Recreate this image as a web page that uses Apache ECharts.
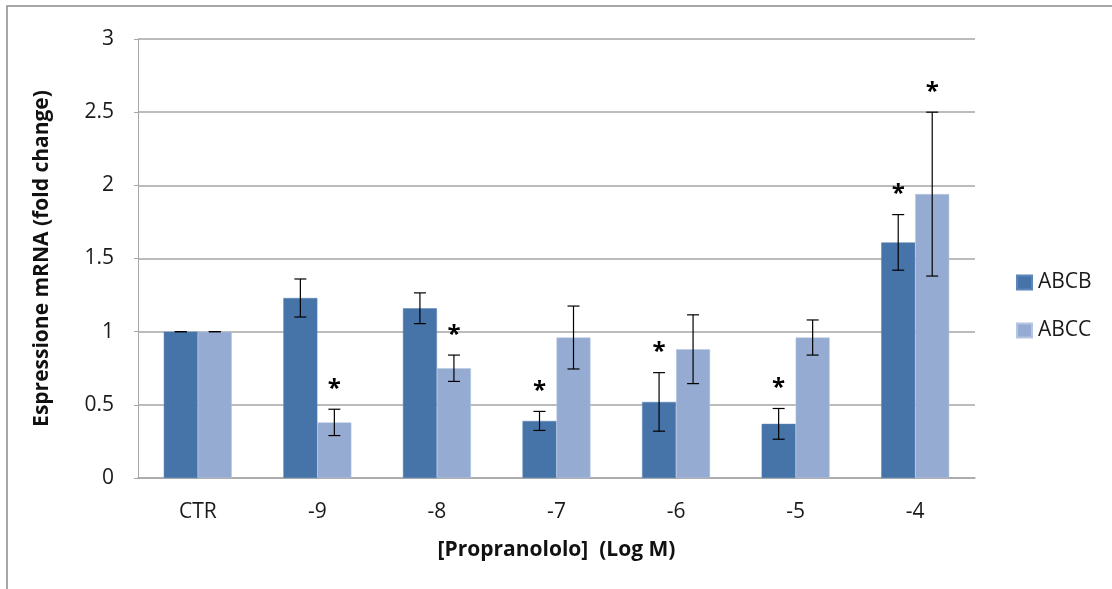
<!DOCTYPE html>
<html>
<head>
<meta charset="utf-8">
<script src="https://cdn.jsdelivr.net/npm/echarts@6/dist/echarts.min.js"></script>
<style>
  html, body { margin: 0; padding: 0; background: #fff; }
  #chart { width: 1112px; height: 589px; }
</style>
</head>
<body>
<div id="chart"></div>
<script>
// Propranolol dose groups (log M)
const categories = ['CTR', '-9', '-8', '-7', '-6', '-5', '-4'];
const seriesNames = ['ABCB', 'ABCC'];

// Mean fold change in mRNA expression
const abcbValues = [1.00, 1.23, 1.16, 0.39, 0.52, 0.37, 1.61];
const abccValues = [1.00, 0.38, 0.75, 0.96, 0.88, 0.96, 1.94];

// Error bar half-widths
const abcbErrors = [0.00, 0.13, 0.105, 0.065, 0.20, 0.105, 0.19];
const abccErrors = [0.00, 0.09, 0.09, 0.215, 0.235, 0.12, 0.56];

// Significance markers (1 = '*')
const abcbSig = [0, 0, 0, 1, 1, 1, 1];
const abccSig = [0, 1, 1, 0, 0, 0, 1];

const yTicks = [0, 0.5, 1, 1.5, 2, 2.5, 3];

const FONT = '"Open Sans", "Noto Sans", sans-serif';
const BAR_W = 34;
const colors = ['#4673a8', '#95abd2'];

function errorItems(values, errors, sig) {
  return values.map((v, i) => [i, v, errors[i], sig[i]]);
}

// Draws the error whisker and optional asterisk for one bar
function makeErrorRenderer(side) {
  return function (params, api) {
    const idx = api.value(0);
    const val = api.value(1);
    const err = api.value(2);
    const sig = api.value(3);
    const center = api.coord([idx, val]);
    const x = center[0] + side * BAR_W / 2;
    const top = api.coord([idx, val + err])[1];
    const bot = api.coord([idx, val - err])[1];
    const cap = 6;
    const lineStyle = { stroke: '#000', lineWidth: 1.2 };
    const children = [
      { type: 'line', shape: { x1: x, y1: top, x2: x, y2: bot }, style: lineStyle },
      { type: 'line', shape: { x1: x - cap, y1: top, x2: x + cap, y2: top }, style: lineStyle },
      { type: 'line', shape: { x1: x - cap, y1: bot, x2: x + cap, y2: bot }, style: lineStyle }
    ];
    if (sig) {
      children.push({
        type: 'text',
        style: {
          text: '*', x: x, y: top - 8,
          fill: '#000', font: 'bold 24px ' + FONT,
          align: 'center', verticalAlign: 'bottom'
        }
      });
    }
    return { type: 'group', children: children };
  };
}

const chart = echarts.init(document.getElementById('chart'), null, { renderer: 'canvas' });

chart.setOption({
  animation: false,
  backgroundColor: '#fff',
  color: colors,
  textStyle: { fontFamily: FONT },
  graphic: [{
    type: 'rect',
    shape: { x: 7, y: 6, width: 1120, height: 620 },
    style: { fill: 'none', stroke: '#8a8a8a', lineWidth: 1.5 },
    silent: true
  }],
  grid: { left: 138, right: 137, top: 39, bottom: 111 },
  legend: {
    orient: 'vertical',
    left: 1011,
    top: 267,
    itemWidth: 15,
    itemHeight: 14,
    itemGap: 27,
    icon: 'rect',
    data: seriesNames,
    textStyle: { fontSize: 21, color: '#1a1a1a', fontFamily: FONT, padding: [0, 0, 0, 1] }
  },
  xAxis: {
    type: 'category',
    data: categories,
    axisLine: { lineStyle: { color: '#a6a6a6', width: 1.5 } },
    axisTick: { show: false },
    axisLabel: { fontSize: 21, color: '#1a1a1a', margin: 24, fontFamily: FONT },
    name: '[Propranololo]  (Log M)',
    nameLocation: 'middle',
    nameGap: 62,
    nameTextStyle: { fontSize: 21, fontWeight: 'bold', color: '#111', fontFamily: FONT }
  },
  yAxis: {
    type: 'value',
    min: 0,
    max: 3,
    interval: 0.5,
    axisLine: { show: true, lineStyle: { color: '#a6a6a6', width: 1 } },
    axisTick: { show: true, length: 4, lineStyle: { color: '#a6a6a6' } },
    axisLabel: {
      fontSize: 21, color: '#1a1a1a', margin: 24, fontFamily: FONT,
      formatter: v => (yTicks.indexOf(v) >= 0 ? String(v) : '')
    },
    splitLine: { lineStyle: { color: '#a6a6a6', width: 1.5 } },
    name: 'Espressione mRNA (fold change)',
    nameLocation: 'middle',
    nameGap: 85,
    nameTextStyle: { fontSize: 21, fontWeight: 'bold', color: '#111', fontFamily: FONT }
  },
  series: [
    {
      name: 'ABCB', type: 'bar', data: abcbValues,
      barWidth: BAR_W, barGap: '0%',
      itemStyle: { color: colors[0], borderColor: '#5b86b9', borderWidth: 0.5 }
    },
    {
      name: 'ABCC', type: 'bar', data: abccValues,
      barWidth: BAR_W, barGap: '0%',
      itemStyle: { color: colors[1], borderColor: '#b6c6e2', borderWidth: 0.5 }
    },
    {
      name: 'ABCB err', type: 'custom', renderItem: makeErrorRenderer(-1),
      data: errorItems(abcbValues, abcbErrors, abcbSig), z: 5, silent: true
    },
    {
      name: 'ABCC err', type: 'custom', renderItem: makeErrorRenderer(1),
      data: errorItems(abccValues, abccErrors, abccSig), z: 5, silent: true
    }
  ]
});
</script>
</body>
</html>
